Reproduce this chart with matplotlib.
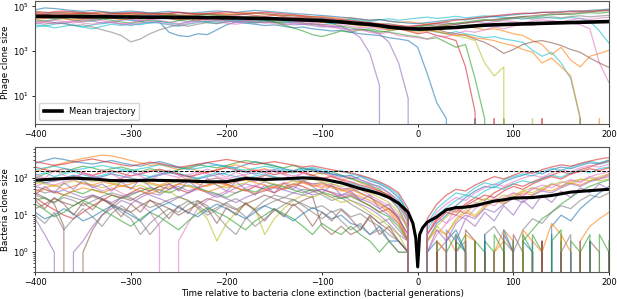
import numpy as np
import matplotlib
matplotlib.use("Agg")
import matplotlib.pyplot as plt
from matplotlib.ticker import FixedLocator, NullLocator, NullFormatter

# time axis (bacterial generations relative to bacteria clone extinction)
t = np.arange(-400, 201, 10)

# phage clone sizes, one list per clone, every 10 generations
phage_01 = [30000, 33000, 28000, 31000, 35000, 30000, 26000, 28000, 31000, 27000,
            24000, 21000, 18000, 20000, 7000, 5000, 4500, 6000, 5500, 9000,
            15000, 20000, 18000, 16000, 14000, 15000, 13000, 11000, 12000, 10000,
            9000, 8000, 8500, 7000, 6000, 5500, 5000, 4000, 3500, 3000,
            1500, 100, 5, 1, 0, 0, 1, 0, 0, 0,
            0, 0, 0, 0, 0, 0, 0, 0, 0, 0, 0]
phage_02 = [40000, 45000, 52000, 48000, 43000, 47000, 40000, 36000, 41000, 44000,
            39000, 35000, 38000, 42000, 37000, 33000, 36000, 30000, 27000, 31000,
            28000, 25000, 23000, 26000, 22000, 19000, 21000, 18000, 16000, 17000,
            14000, 12000, 13000, 8000, 4000, 800, 30, 0, 0, 0,
            0, 0, 0, 0, 0, 0, 0, 0, 0, 0,
            0, 0, 0, 0, 0, 0, 0, 0, 0, 0, 0]
phage_03 = [20000, 23000, 19000, 17000, 21000, 25000, 22000, 18000, 20000, 24000,
            27000, 23000, 26000, 30000, 28000, 24000, 21000, 25000, 29000, 26000,
            23000, 20000, 24000, 21000, 18000, 20000, 17000, 15000, 16000, 14000,
            12000, 13000, 11000, 9000, 10000, 8000, 6000, 2500, 300, 8,
            0, 0, 0, 0, 0, 0, 0, 0, 0, 0,
            0, 0, 0, 0, 0, 0, 0, 0, 0, 0, 0]
phage_04 = [55000, 50000, 58000, 62000, 54000, 48000, 52000, 57000, 51000, 46000,
            50000, 55000, 49000, 44000, 47000, 52000, 48000, 43000, 46000, 50000,
            45000, 41000, 44000, 39000, 36000, 40000, 35000, 31000, 33000, 29000,
            26000, 23000, 25000, 20000, 17000, 19000, 15000, 12000, 10000, 8000,
            6000, 7000, 5000, 4000, 3000, 200, 2, 0, 1, 0,
            0, 0, 0, 1, 0, 0, 0, 0, 0, 0, 0]
phage_05 = [25000, 22000, 26000, 29000, 24000, 21000, 23000, 27000, 24000, 20000,
            18000, 21000, 24000, 22000, 19000, 23000, 26000, 22000, 20000, 24000,
            27000, 30000, 26000, 23000, 25000, 21000, 19000, 22000, 18000, 16000,
            15000, 17000, 13000, 11000, 9000, 10000, 8000, 7000, 6000, 5000,
            4500, 3500, 4000, 2500, 1500, 2000, 60, 1, 0, 1,
            0, 0, 0, 0, 0, 0, 0, 1, 0, 0, 0]
phage_06 = [35000, 38000, 33000, 30000, 34000, 37000, 32000, 29000, 33000, 36000,
            40000, 36000, 32000, 35000, 39000, 34000, 31000, 28000, 32000, 35000,
            33000, 29000, 32000, 36000, 31000, 28000, 30000, 26000, 24000, 27000,
            23000, 20000, 22000, 19000, 16000, 18000, 15000, 13000, 14000, 11000,
            9000, 10000, 8000, 6000, 5000, 4000, 3000, 300, 80, 200,
            0, 0, 1, 0, 0, 0, 0, 0, 0, 0, 0]
phage_07 = [45000, 42000, 47000, 51000, 46000, 43000, 48000, 52000, 49000, 45000,
            42000, 46000, 50000, 47000, 44000, 40000, 43000, 47000, 45000, 41000,
            44000, 48000, 52000, 49000, 45000, 42000, 39000, 41000, 37000, 34000,
            36000, 32000, 29000, 31000, 27000, 24000, 26000, 22000, 19000, 21000,
            18000, 16000, 17000, 14000, 12000, 13000, 11000, 9000, 10000, 8000,
            6000, 5000, 3000, 2000, 700, 1500, 400, 200, 600, 800, 1100]
phage_08 = [15000, 13000, 16000, 18000, 14000, 12000, 15000, 17000, 19000, 16000,
            14000, 17000, 20000, 18000, 15000, 13000, 16000, 19000, 22000, 20000,
            24000, 21000, 18000, 20000, 23000, 26000, 22000, 19000, 21000, 24000,
            20000, 17000, 19000, 16000, 14000, 15000, 12000, 10000, 11000, 9000,
            8000, 9000, 7000, 6000, 7500, 6000, 5000, 4000, 4500, 3500,
            3000, 2500, 1100, 600, 900, 300, 60, 1, 0, 0, 0]
phage_09 = [12000, 14000, 11000, 13000, 15000, 12000, 10000, 13000, 16000, 14000,
            17000, 15000, 19000, 22000, 18000, 16000, 20000, 23000, 19000, 17000,
            21000, 25000, 22000, 19000, 23000, 27000, 24000, 21000, 25000, 28000,
            30000, 26000, 23000, 27000, 24000, 21000, 25000, 28000, 24000, 27000,
            30000, 33000, 29000, 32000, 36000, 31000, 34000, 38000, 35000, 32000,
            30000, 27000, 31000, 34000, 30000, 28000, 32000, 29000, 22000, 8000, 2300]
phage_10 = [22000, 19000, 17000, 20000, 23000, 18000, 16000, 19000, 21000, 17000,
            15000, 18000, 21000, 19000, 16000, 14000, 17000, 20000, 24000, 21000,
            18000, 16000, 19000, 22000, 20000, 17000, 15000, 18000, 21000, 19000,
            16000, 14000, 15000, 13000, 11000, 12000, 10000, 9000, 11000, 12000,
            14000, 13000, 15000, 17000, 16000, 19000, 21000, 18000, 20000, 23000,
            21000, 19000, 22000, 25000, 23000, 20000, 18000, 15000, 10000, 300, 40]
phage_11 = [32000, 29000, 33000, 36000, 31000, 28000, 30000, 34000, 37000, 33000,
            30000, 27000, 31000, 34000, 30000, 26000, 29000, 33000, 31000, 28000,
            25000, 28000, 32000, 29000, 26000, 30000, 27000, 24000, 22000, 25000,
            22000, 19000, 21000, 17000, 15000, 17000, 14000, 12000, 13000, 11000,
            9000, 8000, 9500, 7000, 6000, 5000, 3500, 2500, 1500, 800,
            1200, 2000, 2600, 3000, 2400, 1800, 1200, 900, 500, 300, 190]
phage_12 = [18000, 16000, 19000, 17000, 14000, 15000, 12000, 9000, 7000, 5000,
            2600, 3500, 6000, 9000, 12000, 15000, 13000, 16000, 19000, 17000,
            20000, 23000, 21000, 18000, 20000, 24000, 27000, 25000, 22000, 26000,
            29000, 26000, 23000, 25000, 21000, 18000, 16000, 17000, 14000, 12000,
            13000, 15000, 17000, 19000, 16000, 18000, 21000, 24000, 22000, 25000,
            28000, 31000, 27000, 30000, 34000, 31000, 35000, 38000, 34000, 37000, 40000]
phage_13 = [70000, 85000, 80000, 72000, 65000, 60000, 66000, 58000, 53000, 57000,
            62000, 56000, 51000, 55000, 60000, 54000, 49000, 53000, 58000, 63000,
            58000, 54000, 60000, 66000, 61000, 57000, 52000, 48000, 45000, 42000,
            39000, 36000, 33000, 30000, 27000, 24000, 26000, 22000, 20000, 18000,
            17000, 19000, 21000, 24000, 27000, 25000, 29000, 32000, 35000, 38000,
            42000, 46000, 50000, 55000, 52000, 58000, 63000, 60000, 66000, 70000, 75000]
phage_14 = [38000, 34000, 31000, 35000, 39000, 42000, 38000, 35000, 32000, 36000,
            33000, 30000, 34000, 37000, 41000, 38000, 35000, 39000, 43000, 40000,
            37000, 34000, 31000, 28000, 24000, 20000, 15000, 11000, 8000, 5500,
            4500, 6000, 8000, 7000, 9000, 8500, 7000, 8000, 9500, 11000,
            12000, 14000, 13000, 16000, 18000, 20000, 23000, 26000, 24000, 28000,
            31000, 35000, 33000, 38000, 42000, 46000, 43000, 48000, 52000, 50000, 55000]
phage_15 = [26000, 29000, 32000, 28000, 25000, 27000, 30000, 33000, 29000, 26000,
            28000, 31000, 35000, 32000, 29000, 26000, 28000, 24000, 27000, 30000,
            33000, 30000, 27000, 29000, 32000, 28000, 25000, 23000, 26000, 22000,
            19000, 21000, 18000, 16000, 13000, 14000, 11000, 9000, 10000, 8000,
            7000, 8500, 7500, 6000, 5000, 5500, 4000, 3500, 3000, 2200,
            1800, 1200, 900, 300, 500, 200, 80, 1, 0, 1, 0]
phage_16 = [48000, 44000, 40000, 43000, 47000, 51000, 46000, 42000, 45000, 49000,
            53000, 48000, 44000, 47000, 51000, 55000, 50000, 46000, 49000, 53000,
            57000, 52000, 48000, 51000, 55000, 50000, 46000, 42000, 38000, 35000,
            32000, 29000, 26000, 23000, 21000, 19000, 17000, 15000, 14000, 13000,
            14000, 16000, 18000, 21000, 24000, 27000, 30000, 34000, 38000, 42000,
            46000, 50000, 48000, 53000, 57000, 54000, 59000, 63000, 60000, 65000, 68000]
phage_17 = [17000, 20000, 24000, 21000, 18000, 22000, 26000, 23000, 19000, 16000,
            19000, 23000, 27000, 24000, 20000, 17000, 20000, 24000, 28000, 25000,
            22000, 19000, 23000, 27000, 31000, 28000, 24000, 21000, 18000, 16000,
            14000, 12000, 10000, 8000, 9000, 7000, 6000, 7000, 5000, 4500,
            4000, 3500, 5000, 4500, 6000, 8000, 7000, 9000, 12000, 10000,
            13000, 16000, 14000, 18000, 22000, 20000, 25000, 29000, 26000, 30000, 33000]
phage_18 = [60000, 55000, 50000, 54000, 58000, 53000, 49000, 45000, 48000, 52000,
            47000, 43000, 46000, 50000, 45000, 41000, 38000, 42000, 46000, 43000,
            39000, 42000, 46000, 50000, 47000, 43000, 40000, 37000, 34000, 31000,
            28000, 25000, 22000, 20000, 18000, 16000, 15000, 14000, 12000, 11000,
            10000, 11000, 12000, 14000, 16000, 18000, 20000, 23000, 26000, 29000,
            32000, 35000, 38000, 42000, 46000, 44000, 49000, 53000, 57000, 61000, 65000]

# bacteria clone sizes, one list per clone, every 10 generations
bact_01 = [250, 300, 350, 320, 280, 260, 240, 270, 300, 260,
           230, 210, 250, 280, 240, 200, 180, 220, 260, 230,
           210, 190, 230, 280, 250, 220, 180, 160, 190, 170,
           150, 130, 110, 120, 90, 70, 60, 40, 25, 8,
           0, 2, 6, 10, 18, 30, 45, 60, 55, 80,
           100, 120, 150, 130, 170, 200, 180, 220, 260, 240, 280]
bact_02 = [150, 180, 220, 260, 300, 340, 380, 420, 400, 350,
           300, 260, 220, 240, 200, 170, 190, 160, 140, 170,
           200, 230, 190, 160, 180, 150, 130, 160, 140, 120,
           140, 110, 90, 100, 75, 60, 45, 35, 20, 6,
           0, 1, 0, 3, 1, 0, 2, 0, 1, 4,
           2, 0, 1, 0, 0, 3, 1, 0, 2, 0, 1]
bact_03 = [100, 130, 160, 140, 180, 210, 190, 160, 180, 200,
           170, 150, 180, 160, 140, 170, 200, 230, 210, 190,
           220, 260, 300, 270, 240, 210, 190, 220, 180, 160,
           130, 150, 120, 100, 80, 65, 50, 30, 15, 4,
           0, 0, 1, 0, 2, 1, 0, 0, 3, 1,
           0, 2, 4, 8, 12, 20, 30, 45, 60, 75, 90]
bact_04 = [30, 20, 14, 10, 8, 12, 18, 25, 35, 30,
           40, 55, 45, 60, 70, 50, 40, 55, 65, 80,
           70, 55, 45, 60, 50, 40, 55, 70, 60, 45,
           50, 40, 30, 35, 25, 18, 12, 15, 8, 3,
           0, 3, 8, 15, 12, 20, 30, 25, 40, 55,
           70, 60, 80, 100, 120, 150, 130, 170, 200, 250, 300]
bact_05 = [8, 3, 1, 0, 1, 2, 5, 10, 15, 25,
           20, 30, 40, 35, 50, 60, 45, 55, 40, 30,
           40, 55, 70, 60, 80, 65, 50, 60, 45, 35,
           40, 30, 35, 25, 20, 15, 10, 6, 3, 2,
           0, 1, 0, 0, 2, 0, 1, 0, 0, 1,
           0, 0, 1, 0, 2, 0, 0, 1, 0, 0, 0]
bact_06 = [40, 30, 20, 5, 0, 1, 4, 10, 18, 30,
           25, 35, 45, 60, 50, 70, 85, 75, 90, 100,
           85, 95, 110, 100, 120, 105, 90, 100, 80, 70,
           75, 60, 50, 55, 40, 30, 22, 15, 9, 2,
           0, 0, 2, 1, 0, 4, 2, 0, 1, 0,
           3, 1, 0, 2, 0, 1, 0, 0, 2, 1, 0]
bact_07 = [60, 75, 65, 80, 90, 70, 60, 45, 55, 40,
           30, 20, 12, 5, 0, 2, 6, 15, 25, 35,
           45, 40, 55, 65, 50, 60, 75, 65, 80, 70,
           60, 70, 55, 45, 50, 35, 25, 18, 10, 5,
           0, 1, 3, 6, 10, 8, 15, 22, 18, 30,
           40, 35, 50, 65, 55, 75, 90, 80, 110, 130, 150]
bact_08 = [50, 40, 45, 35, 30, 25, 35, 28, 20, 12,
           8, 3, 6, 10, 15, 12, 20, 25, 18, 10,
           5, 3, 8, 15, 25, 35, 30, 40, 50, 45,
           35, 25, 30, 20, 14, 10, 6, 8, 4, 2,
           0, 0, 1, 2, 0, 1, 0, 3, 5, 2,
           1, 4, 8, 6, 12, 18, 15, 25, 35, 30, 40]
bact_09 = [70, 85, 100, 90, 110, 95, 80, 90, 75, 65,
           55, 65, 50, 40, 45, 30, 25, 15, 8, 2,
           6, 12, 20, 15, 3, 8, 15, 25, 35, 30,
           40, 30, 22, 25, 18, 12, 8, 5, 3, 1,
           0, 2, 5, 9, 14, 11, 20, 28, 24, 35,
           30, 45, 55, 50, 65, 80, 70, 90, 100, 85, 95]
bact_10 = [120, 140, 110, 130, 150, 125, 105, 120, 140, 160,
           145, 125, 110, 130, 150, 135, 115, 100, 120, 140,
           125, 110, 95, 115, 130, 110, 95, 85, 100, 115,
           95, 80, 70, 75, 60, 50, 40, 30, 18, 7,
           0, 4, 10, 16, 25, 35, 30, 45, 60, 50,
           70, 85, 75, 95, 120, 105, 140, 160, 140, 180, 200]
bact_11 = [90, 75, 85, 100, 120, 105, 95, 110, 130, 115,
           100, 90, 105, 120, 140, 125, 110, 95, 110, 125,
           140, 160, 145, 130, 150, 170, 155, 140, 160, 180,
           150, 130, 120, 95, 110, 85, 70, 50, 30, 12,
           0, 1, 0, 2, 4, 1, 0, 3, 0, 1,
           0, 2, 1, 0, 5, 10, 7, 15, 25, 40, 60]
bact_12 = [45, 55, 65, 50, 60, 75, 65, 80, 70, 60,
           70, 85, 75, 65, 80, 95, 85, 70, 60, 75,
           65, 80, 90, 75, 65, 55, 70, 85, 75, 60,
           70, 55, 45, 50, 38, 30, 20, 14, 7, 2,
           0, 2, 4, 3, 7, 12, 9, 16, 25, 20,
           30, 40, 35, 50, 45, 60, 75, 65, 85, 100, 120]
bact_13 = [25, 30, 22, 35, 45, 38, 50, 42, 35, 28,
           35, 45, 55, 48, 40, 52, 65, 55, 45, 38,
           30, 40, 50, 42, 55, 68, 58, 48, 40, 50,
           42, 35, 28, 32, 24, 18, 12, 9, 5, 2,
           0, 0, 2, 0, 1, 3, 0, 2, 1, 0,
           2, 0, 3, 1, 0, 0, 2, 1, 0, 3, 1]
bact_14 = [200, 170, 150, 180, 160, 140, 120, 140, 160, 135,
           115, 130, 150, 175, 150, 130, 110, 125, 145, 165,
           190, 170, 150, 165, 145, 125, 140, 160, 140, 120,
           100, 110, 90, 80, 65, 55, 45, 35, 20, 9,
           0, 3, 7, 12, 10, 18, 25, 35, 30, 45,
           60, 50, 70, 90, 110, 95, 130, 150, 180, 160, 190]
bact_15 = [60, 50, 40, 48, 38, 30, 35, 28, 22, 30,
           38, 45, 35, 28, 22, 30, 40, 50, 42, 35,
           28, 22, 30, 38, 45, 55, 48, 40, 35, 42,
           50, 42, 35, 38, 28, 22, 15, 10, 6, 2,
           0, 1, 4, 2, 6, 10, 8, 15, 12, 20,
           28, 22, 35, 45, 40, 55, 70, 60, 80, 95, 110]
bact_16 = [15, 20, 28, 22, 18, 25, 32, 26, 20, 15,
           12, 18, 25, 20, 15, 10, 14, 20, 28, 24,
           18, 14, 20, 26, 35, 28, 22, 18, 25, 32,
           5, 3, 5, 3, 4, 10, 6, 4, 2, 1,
           0, 0, 1, 0, 0, 2, 0, 1, 0, 0,
           1, 0, 0, 2, 0, 1, 0, 0, 1, 0, 0]
bact_17 = [110, 95, 80, 95, 110, 130, 115, 100, 85, 100,
           115, 135, 160, 140, 120, 105, 125, 145, 130, 110,
           95, 110, 125, 145, 170, 150, 130, 115, 135, 155,
           140, 120, 100, 110, 90, 75, 55, 40, 22, 8,
           0, 5, 12, 20, 30, 25, 40, 55, 70, 60,
           80, 100, 120, 105, 140, 170, 150, 190, 220, 200, 240]
bact_18 = [35, 28, 22, 30, 25, 18, 24, 32, 40, 34,
           28, 22, 16, 20, 26, 32, 25, 18, 12, 16,
           22, 28, 20, 14, 18, 24, 30, 26, 20, 15,
           18, 12, 15, 9, 11, 7, 5, 3, 2, 1,
           0, 1, 0, 0, 1, 0, 2, 0, 0, 1,
           0, 1, 0, 0, 0, 2, 0, 1, 0, 0, 1]
bact_19 = [80, 70, 60, 70, 85, 75, 65, 55, 65, 80,
           95, 80, 70, 60, 70, 85, 100, 90, 75, 65,
           55, 65, 75, 90, 80, 70, 60, 70, 85, 95,
           80, 70, 60, 65, 50, 40, 30, 22, 12, 4,
           0, 2, 5, 3, 8, 14, 10, 18, 26, 22,
           35, 45, 40, 55, 70, 60, 80, 95, 85, 110, 130]
bact_20 = [170, 190, 210, 185, 165, 180, 200, 220, 195, 175,
           160, 180, 200, 230, 210, 190, 170, 185, 205, 225,
           200, 180, 165, 185, 210, 190, 170, 155, 175, 195,
           170, 150, 160, 130, 115, 95, 75, 55, 35, 12,
           0, 6, 15, 25, 40, 35, 55, 75, 65, 90,
           110, 130, 115, 150, 180, 160, 200, 240, 280, 260, 310]
bact_21 = [12, 8, 10, 15, 11, 7, 9, 13, 18, 14,
           10, 7, 12, 17, 22, 16, 12, 9, 14, 20,
           15, 11, 8, 12, 18, 14, 10, 7, 11, 16,
           12, 8, 10, 6, 5, 3, 5, 2, 2, 1,
           0, 1, 2, 0, 3, 1, 0, 2, 0, 4,
           1, 0, 2, 0, 3, 0, 1, 0, 2, 0, 1]
bact_22 = [40, 50, 42, 35, 45, 55, 48, 40, 50, 62,
           55, 45, 38, 48, 58, 70, 60, 50, 42, 52,
           64, 55, 46, 38, 48, 58, 50, 62, 75, 65,
           55, 62, 48, 40, 32, 25, 18, 12, 6, 2,
           0, 0, 2, 1, 0, 3, 2, 0, 1, 2,
           0, 4, 2, 1, 6, 3, 0, 2, 5, 8, 12]
bact_23 = [20, 14, 9, 12, 18, 25, 19, 14, 10, 7,
           5, 8, 12, 9, 6, 4, 7, 11, 16, 12,
           9, 6, 4, 7, 10, 15, 11, 8, 5, 3,
           6, 4, 3, 5, 3, 2, 1, 2, 1, 1,
           0, 2, 0, 1, 3, 0, 2, 1, 0, 2,
           0, 3, 1, 0, 2, 4, 0, 1, 3, 0, 2]
bact_24 = [280, 250, 220, 240, 270, 300, 330, 290, 260, 230,
           210, 240, 270, 250, 220, 195, 215, 240, 265, 290,
           320, 290, 260, 235, 255, 280, 250, 225, 200, 215,
           190, 170, 150, 140, 120, 100, 80, 60, 40, 15,
           0, 8, 20, 35, 50, 45, 65, 85, 110, 95,
           120, 150, 135, 170, 200, 230, 210, 250, 290, 330, 360]
bact_25 = [35, 60, 40, 75, 50, 90, 55, 70, 45, 80,
           50, 95, 60, 40, 70, 45, 85, 55, 100, 65,
           45, 80, 50, 35, 65, 40, 75, 50, 90, 60,
           40, 65, 35, 45, 25, 35, 15, 20, 8, 3,
           0, 1, 0, 4, 2, 8, 5, 12, 7, 18,
           10, 25, 15, 35, 22, 45, 30, 55, 40, 70, 50]
bact_26 = [25, 15, 30, 20, 10, 22, 14, 28, 18, 9,
           20, 12, 26, 16, 8, 18, 11, 24, 15, 6,
           16, 10, 22, 13, 7, 15, 9, 20, 12, 5,
           12, 7, 14, 8, 4, 9, 3, 5, 2, 1,
           0, 0, 1, 0, 2, 0, 0, 1, 0, 3,
           1, 0, 0, 2, 0, 1, 0, 2, 0, 0, 1]
bact_27 = [130, 100, 160, 120, 90, 140, 110, 170, 130, 95,
           150, 115, 85, 125, 165, 120, 90, 135, 175, 140,
           105, 145, 115, 80, 120, 160, 125, 95, 140, 110,
           85, 120, 90, 70, 55, 65, 40, 30, 15, 5,
           0, 3, 9, 6, 15, 11, 22, 17, 30, 24,
           40, 32, 55, 45, 70, 58, 90, 75, 110, 95, 130]
bact_28 = [10, 6, 12, 4, 8, 15, 9, 5, 11, 18,
           12, 7, 3, 6, 11, 17, 24, 16, 10, 14,
           21, 15, 9, 5, 8, 13, 19, 27, 18, 12,
           8, 13, 7, 4, 6, 3, 4, 2, 1, 1,
           0, 1, 0, 0, 1, 2, 0, 0, 1, 0,
           2, 0, 1, 0, 0, 1, 3, 0, 1, 0, 0]

# mean trajectories (finer sampling near the extinction point)
mean_t = [-400, -380, -360, -340, -320, -300, -280, -260, -240, -220, -200,
          -180, -160, -140, -120, -100, -80, -60, -50, -40, -30, -20, -10,
          -5, -2, 0, 2, 5, 10, 20, 30, 40, 50, 60, 70, 80, 90, 100,
          120, 140, 160, 180, 200]
phage_mean = [36000, 35500, 35000, 34500, 34000, 33500, 33000, 32500, 32000, 31500, 31000,
              30000, 29000, 27000, 25000, 23000, 20000, 17000, 15500, 14000, 12000, 10800, 10200,
              10000, 9900, 9800, 9800, 9900, 10000, 10500, 11000, 11500, 12500, 13500, 14500, 15000, 15500, 16000,
              17000, 18000, 19000, 20000, 21000]
bact_mean = [88, 95, 100, 95, 86, 85, 88, 86, 84, 80, 80,
             98, 92, 96, 102, 95, 75, 52, 45, 38, 30, 21, 12,
             6, 2.4, 0.4, 3.0, 4.5, 6.5, 9, 14, 16, 16.5, 18, 21, 24, 26, 29,
             30, 34, 42, 46, 50]
bact_threshold = 160

phage_lines = [phage_01, phage_02, phage_03, phage_04, phage_05, phage_06, phage_07, phage_08, phage_09,
               phage_10, phage_11, phage_12, phage_13, phage_14, phage_15, phage_16, phage_17, phage_18]
phage_colors = ['C0', 'C4', 'C4', 'C3', 'C2', 'C8', 'C1', 'C9', 'C9',
                'C6', 'C5', 'C7', 'C0', 'C2', 'C1', 'C3', 'C6', 'C5']
bact_lines = [bact_01, bact_02, bact_03, bact_04, bact_05, bact_06, bact_07, bact_08,
              bact_09, bact_10, bact_11, bact_12, bact_13, bact_14, bact_15, bact_16,
              bact_17, bact_18, bact_19, bact_20, bact_21, bact_22, bact_23, bact_24,
              bact_25, bact_26, bact_27, bact_28]

plt.rcParams['font.size'] = 6

fig = plt.figure(figsize=(6.17, 2.99), dpi=100)
ax1 = fig.add_axes([0.057, 0.585, 0.930, 0.412])
ax2 = fig.add_axes([0.057, 0.090, 0.930, 0.418])

#%% phage panel
for y, c in zip(phage_lines, phage_colors):
    ax1.plot(t, y, color=c, lw=0.9, alpha=0.6)
ax1.plot(mean_t, phage_mean, color='k', lw=2.6, label='Mean trajectory')
ax1.set_yscale('log')
ax1.set_ylim(0.57, 1.75e5)
ax1.yaxis.set_major_locator(FixedLocator([1e1, 1e3, 1e5]))
ax1.yaxis.set_minor_locator(NullLocator())
ax1.set_ylabel('Phage clone size', fontsize=6.3, labelpad=2)
ax1.legend(loc='lower left', fontsize=6, handlelength=2.2, borderpad=0.5)

#%% bacteria panel
for i, y in enumerate(bact_lines):
    ax2.plot(t, y, color='C%d' % (i % 10), lw=0.9, alpha=0.6)
ax2.plot(mean_t, bact_mean, color='k', lw=2.2)
ax2.axhline(bact_threshold, color='k', ls='--', lw=0.7)
ax2.set_yscale('log')
ax2.set_ylim(0.29, 690)
ax2.yaxis.set_minor_formatter(NullFormatter())
ax2.set_ylabel('Bacteria clone size', fontsize=6.3, labelpad=2)
ax2.set_xlabel('Time relative to bacteria clone extinction (bacterial generations)',
               fontsize=6.3, labelpad=1.5)

for ax in (ax1, ax2):
    ax.set_xlim(-400, 200)
    ax.set_xticks([-400, -300, -200, -100, 0, 100, 200])
    ax.tick_params(length=2.5, width=0.6, pad=2)
    ax.tick_params(which='minor', length=1.5, width=0.5)
    for s in ax.spines.values():
        s.set_color('#555555')

fig.savefig('out.png', dpi=100)
